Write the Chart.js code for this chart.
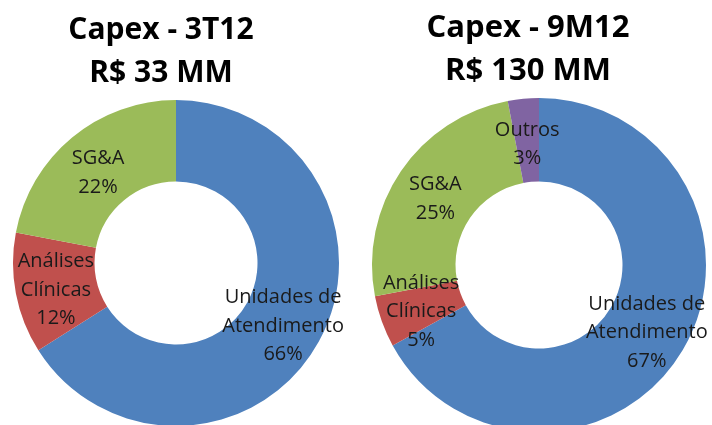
<!DOCTYPE html>
<html>
<head>
<meta charset="utf-8">
<script src="https://cdn.jsdelivr.net/npm/chart.js@4/dist/chart.umd.min.js"></script>
<style>
html,body{margin:0;padding:0;background:#fff;overflow:hidden;width:712px;height:425px}
.box{position:absolute;top:0;width:356px;height:440px}
canvas{display:block}
</style>
</head>
<body>
<div class="box" style="left:0"><canvas id="c1" width="356" height="440"></canvas></div>
<div class="box" style="left:356px"><canvas id="c2" width="356" height="440"></canvas></div>
<script>
// ---- data ----
const categories3T = ["Unidades de\nAtendimento", "Análises\nClínicas", "SG&A"];
const values3T = [66, 12, 22];
const title3T = ["Capex - 3T12", "R$ 33 MM"];

const categories9M = ["Unidades de\nAtendimento", "Análises\nClínicas", "SG&A", "Outros"];
const values9M = [67, 5, 25, 3];
const title9M = ["Capex - 9M12", "R$ 130 MM"];

const colors3T = ["#4F81BD", "#C0504D", "#9BBB59"];
const colors9M = ["#4F81BD", "#C0504D", "#9BBB59", "#8064A2"];

// ---- plugins ----
const sliceLabels = {
  id: "sliceLabels",
  afterDatasetsDraw(chart, args, opts) {
    const ctx = chart.ctx;
    const meta = chart.getDatasetMeta(0);
    const data = chart.data.datasets[0].data;
    ctx.save();
    ctx.font = opts.font;
    ctx.fillStyle = opts.color;
    ctx.textAlign = "center";
    ctx.textBaseline = "middle";
    meta.data.forEach((arc, i) => {
      const p = arc.getCenterPoint();
      const lines = String(chart.data.labels[i]).split("\n").concat([data[i] + "%"]);
      const lh = opts.lineHeight;
      const y0 = p.y + opts.dy - (lines.length - 1) * lh / 2;
      lines.forEach((t, k) => ctx.fillText(t, p.x, y0 + k * lh));
    });
    ctx.restore();
  }
};

const capexTitle = {
  id: "capexTitle",
  afterDraw(chart, args, opts) {
    const ctx = chart.ctx;
    ctx.save();
    ctx.font = opts.font;
    ctx.fillStyle = "#000";
    ctx.textAlign = "center";
    ctx.textBaseline = "alphabetic";
    opts.lines.forEach((t, k) => ctx.fillText(t, opts.x, opts.baselines[k]));
    ctx.restore();
  }
};

function makeChart(id, labels, values, colors, titleLines, padding, titleOpts) {
  return new Chart(document.getElementById(id), {
    type: "doughnut",
    data: {
      labels: labels,
      datasets: [{
        data: values,
        backgroundColor: colors,
        borderWidth: 0,
        hoverOffset: 0
      }]
    },
    options: {
      responsive: false,
      animation: false,
      cutout: "50%",
      rotation: 0,
      layout: { padding: padding },
      plugins: {
        legend: { display: false },
        tooltip: { enabled: false },
        title: { display: false },
        sliceLabels: { font: "20px 'Open Sans'", color: "#1a1a1a", lineHeight: 28.5, dy: 4 },
        capexTitle: Object.assign({ lines: titleLines }, titleOpts)
      }
    },
    plugins: [sliceLabels, capexTitle]
  });
}

makeChart("c1", categories3T, values3T, colors3T, title3T,
  { left: 13, right: 17, top: 100, bottom: 14 },
  { x: 161, baselines: [39, 82], font: "bold 30px 'Open Sans'" });

makeChart("c2", categories9M, values9M, colors9M, title9M,
  { left: 16, right: 6, top: 98, bottom: 8 },
  { x: 172, baselines: [37, 80], font: "bold 31px 'Open Sans'" });
</script>
</body>
</html>
